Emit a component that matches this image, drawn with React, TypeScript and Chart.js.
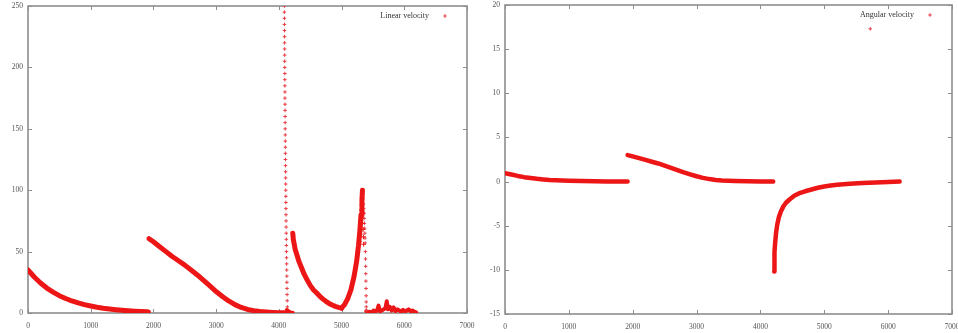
import React, { useEffect, useRef } from "react";
import { Chart, registerables } from "chart.js";

Chart.register(...registerables);

// ---- Linear velocity (left panel) ----
const linDecay1X = [0, 100, 200, 300, 400, 500, 600, 700, 800, 900, 1000, 1100, 1200, 1300, 1400, 1500, 1600, 1700, 1800, 1900, 1920];
const linDecay1Y = [35, 29.3, 24.4, 20.3, 17, 14.1, 11.8, 9.8, 8.2, 6.8, 5.7, 4.7, 3.9, 3.3, 2.7, 2.2, 1.8, 1.5, 1.2, 1.0, 0.9];

const linDecay2X = [1930, 2000, 2100, 2200, 2300, 2400, 2500, 2600, 2700, 2800, 2900, 3000, 3100, 3200, 3300, 3400, 3500, 3600, 3700, 3800, 3900, 4000, 4080];
const linDecay2Y = [60.5, 58, 54, 50, 46, 42.5, 39, 35, 31, 26.5, 22, 17.5, 13.5, 9.8, 6.8, 4.5, 2.9, 1.9, 1.2, 0.8, 0.5, 0.3, 0.2];

// sparse samples of the tall spike near t = 4100
const linSpikeX = [4088, 4088, 4089, 4089, 4090, 4091, 4091, 4092, 4093, 4093, 4094, 4095, 4095, 4096, 4097, 4097, 4098, 4099, 4100, 4100, 4101, 4102, 4103, 4104, 4104, 4105, 4106, 4107, 4108, 4109, 4110, 4111, 4112, 4113, 4114, 4115, 4116, 4118, 4119, 4120, 4121, 4123, 4124, 4125, 4127, 4128, 4130, 4131, 4133, 4135];
const linSpikeY = [250, 245, 240, 235, 230, 225, 220, 215, 210, 205, 200, 195, 190, 185, 180, 175, 170, 165, 160, 155, 150, 145, 140, 135, 130, 125, 120, 115, 110, 105, 100, 95, 90, 85, 80, 75, 70, 65, 60, 55, 50, 45, 40, 35, 30, 25, 20, 15, 10, 5];

const linFootX = [4110, 4130, 4150, 4170, 4190, 4210, 4222];
const linFootY = [0.5, 2.5, 1.5, 0.8, 0.5, 0.3, 0.2];

const linDecay3X = [4222, 4230, 4245, 4260, 4290, 4320, 4360, 4400, 4450, 4500, 4550, 4600, 4650, 4700, 4750, 4800, 4850, 4900, 4950, 5000];
const linDecay3Y = [65, 60, 56, 52, 47, 42, 37, 32, 27, 22.5, 19, 16.5, 13.8, 11.5, 9.5, 7.8, 6.5, 5.4, 4.6, 4];

const linRiseX = [5000, 5050, 5100, 5150, 5200, 5240, 5270, 5290, 5310, 5325, 5333];
const linRiseY = [4, 7, 12, 19, 30, 42, 55, 66, 80, 92, 100];

// scattered samples around the second peak
const linPeakX = [5285, 5295, 5302, 5308, 5315, 5320, 5326, 5331, 5338, 5343, 5348, 5352];
const linPeakY = [58, 64, 70, 75, 84, 78, 88, 73, 82, 68, 62, 56];

const linDropX = [5335, 5342, 5348, 5352, 5356, 5360, 5364, 5368, 5371, 5374, 5377, 5380, 5382, 5384, 5386, 5388, 5390, 5392, 5393, 5394, 5396];
const linDropY = [97, 93, 89, 85, 81, 77, 73, 69, 65, 61, 57, 50, 44, 38, 32, 26, 20, 14, 9, 5, 2];

const linNoiseX = [5395, 5420, 5450, 5480, 5510, 5540, 5570, 5590, 5610, 5640, 5670, 5700, 5720, 5740, 5770, 5800, 5830, 5860, 5890, 5920, 5950, 5980, 6010, 6040, 6070, 6100, 6130, 6160, 6190];
const linNoiseY = [1.5, 0.5, 1, 0.3, 2, 1, 2.5, 6, 1.5, 2, 3, 4, 9.5, 3, 5, 2, 4.5, 1.5, 3, 2, 1, 2.5, 1.5, 2, 3, 1.5, 2, 1, 0.5];

// ---- Angular velocity (right panel) ----
const angSeg1X = [0, 100, 200, 300, 400, 500, 600, 700, 800, 1000, 1200, 1400, 1600, 1800, 1920];
const angSeg1Y = [0.95, 0.8, 0.64, 0.5, 0.4, 0.31, 0.24, 0.18, 0.14, 0.09, 0.06, 0.04, 0.02, 0.01, 0.0];

const angSeg2X = [1920, 2000, 2100, 2200, 2300, 2400, 2500, 2600, 2700, 2800, 2900, 3000, 3100, 3200, 3300, 3400, 3600, 3800, 4000, 4200];
const angSeg2Y = [3.0, 2.85, 2.65, 2.45, 2.25, 2.05, 1.8, 1.55, 1.3, 1.05, 0.82, 0.6, 0.42, 0.28, 0.18, 0.12, 0.06, 0.03, 0.01, 0];

const angSeg3X = [4215, 4218, 4222, 4230, 4245, 4265, 4290, 4320, 4360, 4400, 4460, 4530, 4600, 4700, 4800, 4900, 5000, 5100, 5200, 5400, 5600, 5800, 6000, 6180];
const angSeg3Y = [-10.2, -9, -8, -7, -5.8, -4.8, -4, -3.4, -2.8, -2.4, -2, -1.6, -1.35, -1.1, -0.9, -0.7, -0.55, -0.45, -0.36, -0.25, -0.17, -0.1, -0.05, 0];

const angOutlierX = [5720];
const angOutlierY = [17.3];

// ---- axes ----
const X_MIN = 0, X_MAX = 7000, X_STEP = 1000;
const LIN_MIN = 0, LIN_MAX = 250, LIN_STEP = 50;
const ANG_MIN = -15, ANG_MAX = 20, ANG_STEP = 5;

const RED = "rgb(236, 22, 22)";
const MARK_RED = "rgb(232, 60, 70)";
const SERIF = '"Liberation Serif", "DejaVu Serif", serif';

const pts = (xs: number[], ys: number[]) => xs.map((x, i) => ({ x, y: ys[i] }));

const band = (label: string, xs: number[], ys: number[], width = 5) => ({
  label,
  data: pts(xs, ys),
  showLine: true,
  borderColor: RED,
  backgroundColor: RED,
  borderWidth: width,
  borderCapStyle: "round",
  borderJoinStyle: "round",
  pointRadius: 0,
  tension: 0,
});

const marks = (label: string, xs: number[], ys: number[], color = MARK_RED, r = 1.8) => ({
  label,
  data: pts(xs, ys),
  showLine: false,
  borderColor: color,
  backgroundColor: color,
  pointStyle: "cross",
  pointRadius: r,
  pointBorderWidth: 1,
});

// border with inward ticks on all four sides, plus a key in the upper right
const gnuFrame = {
  id: "gnuFrame",
  beforeDatasetsDraw(chart: any) {
    const { ctx, chartArea: a, scales } = chart;
    const sx = scales.x, sy = scales.y;
    ctx.save();
    ctx.strokeStyle = "#8e8e8e";
    ctx.lineWidth = 1;
    ctx.beginPath();
    const tl = 4;
    sx.ticks.forEach((t: any) => {
      const px = Math.round(sx.getPixelForValue(t.value)) + 0.5;
      ctx.moveTo(px, a.bottom);
      ctx.lineTo(px, a.bottom - tl);
      ctx.moveTo(px, a.top);
      ctx.lineTo(px, a.top + tl);
    });
    sy.ticks.forEach((t: any) => {
      const py = Math.round(sy.getPixelForValue(t.value)) + 0.5;
      ctx.moveTo(a.left, py);
      ctx.lineTo(a.left + tl, py);
      ctx.moveTo(a.right, py);
      ctx.lineTo(a.right - tl, py);
    });
    ctx.stroke();
    ctx.lineWidth = 1.6;
    ctx.strokeRect(a.left, a.top, a.right - a.left, a.bottom - a.top);
    ctx.restore();
  },
  afterDatasetsDraw(chart: any, _args: any, opts: any) {
    const { ctx, chartArea: a } = chart;
    if (!opts || !opts.text) return;
    const y = a.top + 10;
    ctx.save();
    ctx.font = `8px ${SERIF}`;
    ctx.fillStyle = "#333";
    ctx.textAlign = "right";
    ctx.textBaseline = "middle";
    ctx.fillText(opts.text, a.right - 38, y);
    const mx = a.right - 22;
    ctx.strokeStyle = MARK_RED;
    ctx.lineWidth = 1;
    ctx.beginPath();
    ctx.moveTo(mx - 1.8, y);
    ctx.lineTo(mx + 1.8, y);
    ctx.moveTo(mx, y - 1.8);
    ctx.lineTo(mx, y + 1.8);
    ctx.stroke();
    ctx.restore();
  },
};

function makeOptions(cfg: {
  yMin: number; yMax: number; yStep: number;
  yWidth: number; xHeight: number; top: number; right: number; key: string;
}) {
  const tickFont = { family: SERIF, size: 7.5 };
  const plain = (v: any) => String(v);
  return {
    animation: false,
    responsive: false,
    devicePixelRatio: 1,
    events: [],
    layout: { padding: { top: cfg.top, right: cfg.right, left: 0, bottom: 0 } },
    plugins: {
      legend: { display: false },
      tooltip: { enabled: false },
      gnuFrame: { text: cfg.key },
    },
    scales: {
      x: {
        type: "linear",
        min: X_MIN,
        max: X_MAX,
        grid: { display: false, drawTicks: false },
        border: { display: false },
        ticks: { stepSize: X_STEP, color: "#555", font: tickFont, padding: 9, maxRotation: 0, callback: plain },
        afterFit: (s: any) => {
          s.height = cfg.xHeight;
          s.paddingLeft = 0;
          s.paddingRight = 0;
        },
      },
      y: {
        type: "linear",
        min: cfg.yMin,
        max: cfg.yMax,
        grid: { display: false, drawTicks: false },
        border: { display: false },
        ticks: { stepSize: cfg.yStep, color: "#555", font: tickFont, padding: 5, callback: plain },
        afterFit: (s: any) => {
          s.width = cfg.yWidth;
          s.paddingTop = 0;
          s.paddingBottom = 0;
        },
      },
    },
  };
}

function Panel(props: { width: number; left: number; datasets: any[]; options: any }) {
  const ref = useRef<HTMLCanvasElement>(null);
  useEffect(() => {
    if (!ref.current) return;
    const chart = new Chart(ref.current, {
      type: "scatter",
      data: { datasets: props.datasets },
      options: props.options,
      plugins: [gnuFrame],
    } as any);
    return () => chart.destroy();
  }, []);
  return (
    <canvas
      ref={ref}
      width={props.width}
      height={333}
      style={{ position: "absolute", left: props.left, top: 0, width: props.width, height: 333 }}
    />
  );
}

export default function App() {
  const linearSets = [
    band("Linear velocity", linDecay1X, linDecay1Y),
    band("Linear velocity", linDecay2X, linDecay2Y),
    marks("Linear velocity", linSpikeX, linSpikeY),
    band("Linear velocity", linFootX, linFootY, 4),
    band("Linear velocity", linDecay3X, linDecay3Y),
    band("Linear velocity", linRiseX, linRiseY, 5),
    marks("Linear velocity", linPeakX, linPeakY, RED, 2.4),
    marks("Linear velocity", linDropX, linDropY),
    band("Linear velocity", linNoiseX, linNoiseY, 4),
  ];
  const angularSets = [
    band("Angular velocity", angSeg1X, angSeg1Y, 4.5),
    band("Angular velocity", angSeg2X, angSeg2Y, 4.5),
    band("Angular velocity", angSeg3X, angSeg3Y, 4.5),
    marks("Angular velocity", angOutlierX, angOutlierY),
  ];

  const linearOptions = makeOptions({
    yMin: LIN_MIN, yMax: LIN_MAX, yStep: LIN_STEP,
    yWidth: 28, xHeight: 20, top: 6, right: 13, key: "Linear velocity",
  });
  const angularOptions = makeOptions({
    yMin: ANG_MIN, yMax: ANG_MAX, yStep: ANG_STEP,
    yWidth: 25, xHeight: 19, top: 5, right: 6, key: "Angular velocity",
  });

  return (
    <div style={{ position: "fixed", left: 0, top: 0, width: 958, height: 333, background: "#fff", overflow: "hidden" }}>
      <Panel width={480} left={0} datasets={linearSets} options={linearOptions} />
      <Panel width={478} left={480} datasets={angularSets} options={angularOptions} />
    </div>
  );
}
